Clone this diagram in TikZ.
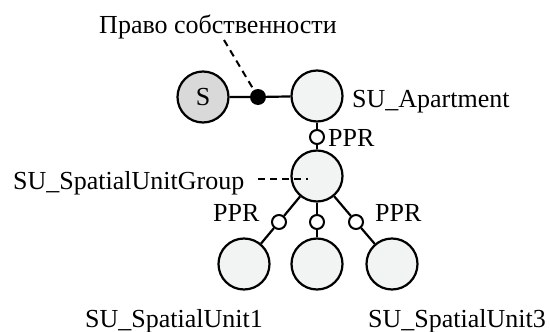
\documentclass[tikz,border=0pt]{standalone}
\usepackage{fontspec}
\setmainfont{Liberation Serif}
\usetikzlibrary{positioning}
\definecolor{Fog}{HTML}{F2F3F3}
\definecolor{Ash}{HTML}{D9D9D9}

\begin{document}
\begin{tikzpicture}[x=1pt, y=-1pt,
    unit/.style={circle, draw, line width=2.2pt, fill=Fog, minimum size=51pt, inner sep=0pt},
    joint/.style={circle, draw, line width=2pt, fill=white, minimum size=14pt, inner sep=0pt},
    owner/.style={circle, fill=black, minimum size=16pt, inner sep=0pt},
    lbl/.style={inner sep=0pt, font=\fontsize{26}{31}\selectfont},
    link/.style={line width=2.2pt},
    hint/.style={line width=2pt, dash pattern=on 7pt off 5pt}]
    \useasboundingbox (0,0) rectangle (550,332);

    % subject, right holder and the apartment
    \node[unit, fill=Ash, font=\fontsize{26}{31}\selectfont] (subj) at (203,97) {S};
    \node[owner] (own) at (258,97) {};
    \node[unit] (apt) at (317,96) {};
    \draw[link] (subj) -- (own) -- (apt);

    % group under the apartment
    \node[joint] (pprA) at (317,137) {};
    \node[unit] (grp) at (317,176) {};
    \draw[link] (apt) -- (pprA) -- (grp);

    % three spatial units
    \node[unit] (unitL) at (244,264) {};
    \node[unit] (unitM) at (317,264) {};
    \node[unit] (unitR) at (392,264) {};
    \node[joint] (pprL) at (279,222) {};
    \node[joint] (pprM) at (317,222) {};
    \node[joint] (pprR) at (356,222) {};
    \draw[link] (grp) -- (pprL) -- (unitL);
    \draw[link] (grp) -- (pprM) -- (unitM);
    \draw[link] (grp) -- (pprR) -- (unitR);

    % labels
    \node[lbl, anchor=base] (ownLbl) at (218,33) {Право собственности};
    \node[lbl, anchor=base west] (aptLbl) at (352,107) {SU\_Apartment};
    \node[lbl, anchor=base west] (pprALbl) at (328,146) {PPR};
    \node[lbl, anchor=base west] (grpLbl) at (13,189) {SU\_SpatialUnitGroup};
    \node[lbl, anchor=base west] (pprLLbl) at (213,221) {PPR};
    \node[lbl, anchor=base west] (pprRLbl) at (375,221) {PPR};
    \node[lbl, anchor=base west] (unit1Lbl) at (85,327) {SU\_SpatialUnit1};
    \node[lbl, anchor=base west] (unit3Lbl) at (368,327) {SU\_SpatialUnit3};

    % leader lines
    \coordinate (ownTip) at (224,40);
    \coordinate (grpTip) at (258,179);
    \coordinate (grpIn) at (308,179);
    \draw[hint] (ownTip) -- (own);
    \draw[hint] (grpTip) -- (grpIn);
\end{tikzpicture}
\end{document}
